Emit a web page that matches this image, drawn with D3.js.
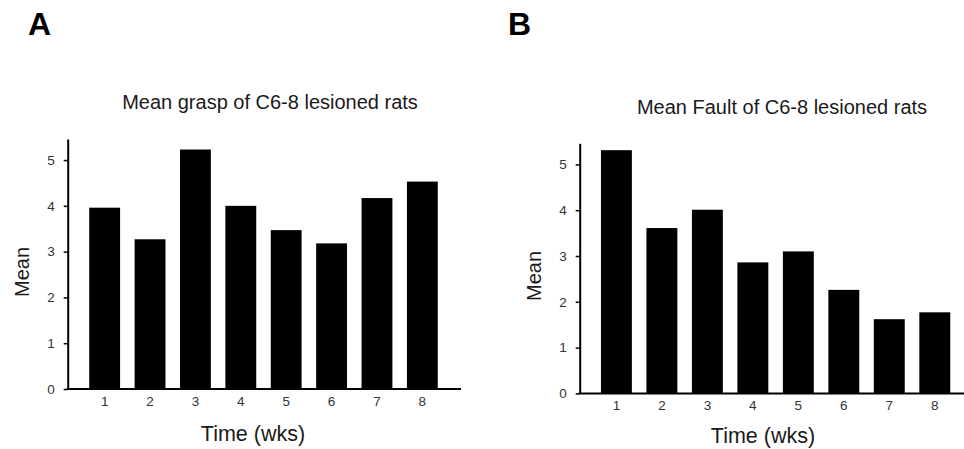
<!DOCTYPE html>
<html>
<head>
<meta charset="utf-8">
<script src="https://cdn.jsdelivr.net/npm/d3@7"></script>
<style>
  body { margin: 0; background: #fff; }
  svg text { font-family: 'Liberation Sans', Arial, sans-serif; }
</style>
</head>
<body>
<div id="chart"></div>
<script>
const weeks = ['1', '2', '3', '4', '5', '6', '7', '8'];
const graspMeans = [3.96, 3.27, 5.23, 4.0, 3.47, 3.18, 4.17, 4.53];
const faultMeans = [5.31, 3.61, 4.01, 2.86, 3.1, 2.26, 1.62, 1.77];
const meanTicks = [0, 1, 2, 3, 4, 5];
const panelLabels = ['A', 'B'];
const titles = ['Mean grasp of C6-8 lesioned rats', 'Mean Fault of C6-8 lesioned rats'];

const width = 964;
const height = 449;

const svg = d3.select('#chart').append('svg').attr('width', width).attr('height', height);

function drawPanel(values, opts) {
    const g = svg.append('g').attr('class', 'panel');

    const yScale = d3.scaleLinear().domain([0, 5.46]).range([opts.bottom, opts.top]);

    const xScale = d3
        .scaleBand()
        .domain(weeks)
        .range([opts.bandLeft, opts.bandRight])
        .padding(0.32);

    // bars
    g.append('g')
        .selectAll('rect')
        .data(values)
        .enter()
        .append('rect')
        .attr('x', (d, i) => xScale(weeks[i]))
        .attr('width', xScale.bandwidth())
        .attr('y', (d) => yScale(d))
        .attr('height', (d) => yScale(0) - yScale(d))
        .attr('fill', '#000');

    // y axis
    const yAxis = g
        .append('g')
        .attr('transform', `translate(${opts.axisX}, 0)`)
        .call(
            d3
                .axisLeft(yScale)
                .tickValues(meanTicks)
                .tickFormat(d3.format('d'))
                .tickSize(4)
                .tickSizeOuter(0)
                .tickPadding(9)
        );
    yAxis.select('.domain').attr('stroke', '#000').attr('stroke-width', 2);
    yAxis.selectAll('.tick line').attr('stroke', '#000').attr('stroke-width', 1.5);
    yAxis.selectAll('.tick text').attr('font-size', 13.5).attr('fill', '#333').attr('font-family', null);

    // x axis labels
    const xAxis = g
        .append('g')
        .attr('transform', `translate(0, ${opts.bottom})`)
        .call(d3.axisBottom(xScale).tickSize(0).tickPadding(7));
    xAxis.select('.domain').remove();
    xAxis.selectAll('.tick text').attr('font-size', 13.5).attr('fill', '#333').attr('font-family', null);

    // x axis baseline
    g.append('line')
        .attr('x1', opts.axisX - 1)
        .attr('x2', opts.axisRight)
        .attr('y1', yScale(0))
        .attr('y2', yScale(0))
        .attr('stroke', '#000')
        .attr('stroke-width', 2);

    g.append('text')
        .attr('x', opts.titleX)
        .attr('y', opts.titleY)
        .attr('text-anchor', 'middle')
        .attr('font-size', 20)
        .attr('fill', '#1a1a1a')
        .text(opts.title);

    g.append('text')
        .attr('x', opts.xLabelX)
        .attr('y', opts.xLabelY)
        .attr('text-anchor', 'middle')
        .attr('font-size', 21.5)
        .attr('fill', '#1a1a1a')
        .text('Time (wks)');

    g.append('text')
        .attr('transform', `translate(${opts.yLabelX}, ${opts.yLabelY}) rotate(-90)`)
        .attr('text-anchor', 'middle')
        .attr('font-size', 20)
        .attr('fill', '#1a1a1a')
        .text('Mean');

    g.append('text')
        .attr('x', opts.panelX)
        .attr('y', 35)
        .attr('font-size', 32)
        .attr('font-weight', 'bold')
        .attr('fill', '#000')
        .text(opts.panel);
}

drawPanel(graspMeans, {
    top: 139,
    bottom: 389,
    bandLeft: 74.7,
    bandRight: 452.3,
    axisX: 67.7,
    axisRight: 461,
    title: titles[0],
    titleX: 270,
    titleY: 109,
    xLabelX: 253,
    xLabelY: 441,
    yLabelX: 28.5,
    yLabelY: 272,
    panel: panelLabels[0],
    panelX: 28
});

drawPanel(faultMeans, {
    top: 143.3,
    bottom: 393.4,
    bandLeft: 586.4,
    bandRight: 964.8,
    axisX: 579.7,
    axisRight: 964,
    title: titles[1],
    titleX: 782,
    titleY: 114,
    xLabelX: 763,
    xLabelY: 443,
    yLabelX: 541,
    yLabelY: 276,
    panel: panelLabels[1],
    panelX: 508
});
</script>
</body>
</html>
